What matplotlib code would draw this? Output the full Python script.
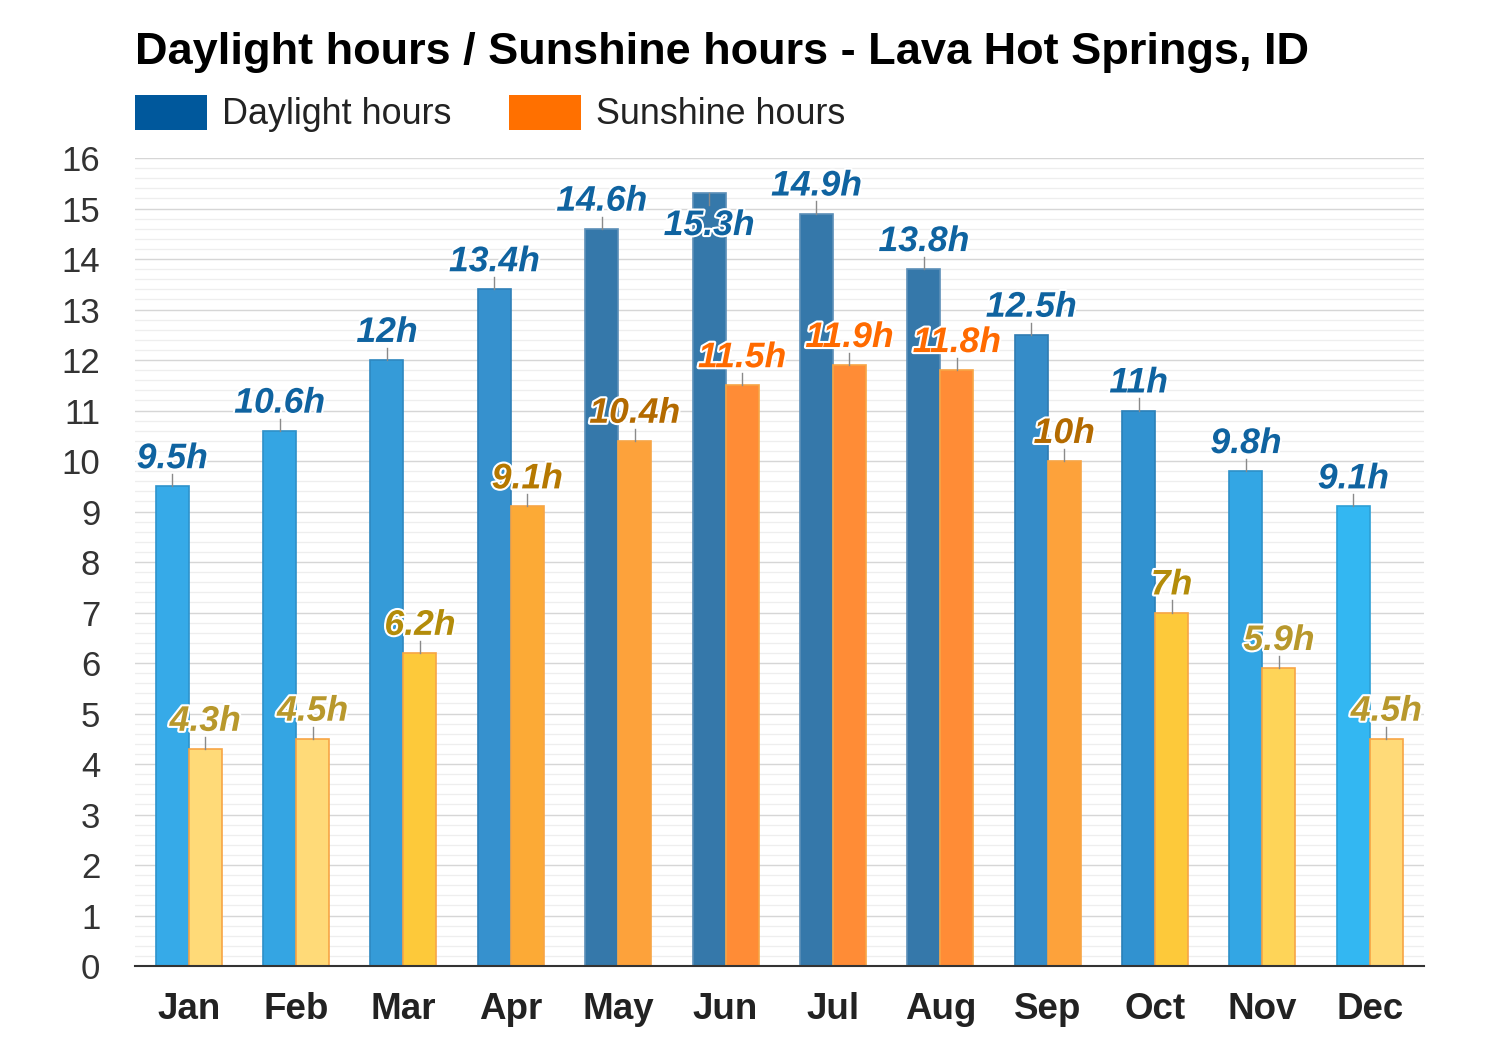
import matplotlib
matplotlib.use("Agg")
import matplotlib.pyplot as plt
import matplotlib.patheffects as pe
from matplotlib.patches import Rectangle
from matplotlib.ticker import MultipleLocator

plt.rcParams['font.family'] = ['Liberation Sans', 'DejaVu Sans']

months = ["Jan", "Feb", "Mar", "Apr", "May", "Jun", "Jul", "Aug", "Sep", "Oct", "Nov", "Dec"]
daylight = [9.5, 10.6, 12, 13.4, 14.6, 15.3, 14.9, 13.8, 12.5, 11, 9.8, 9.1]
sunshine = [4.3, 4.5, 6.2, 9.1, 10.4, 11.5, 11.9, 11.8, 10, 7, 5.9, 4.5]
day_labels = ["9.5h", "10.6h", "12h", "13.4h", "14.6h", "15.3h", "14.9h", "13.8h", "12.5h", "11h", "9.8h", "9.1h"]
sun_labels = ["4.3h", "4.5h", "6.2h", "9.1h", "10.4h", "11.5h", "11.9h", "11.8h", "10h", "7h", "5.9h", "4.5h"]

day_colors = ["#36AAE8", "#34A5E3", "#359BD8", "#3691CE", "#3578AA", "#3578AA", "#3578AA", "#3578AA",
              "#358CC8", "#3192D0", "#33A6E4", "#33B7F2"]
day_edges = ["#2E93CC", "#2E90C8", "#2E88C0", "#2F80B8", "#5C8FB8", "#5C8FB8", "#5C8FB8", "#5C8FB8",
             "#2F7CB2", "#2A80B8", "#2D90C8", "#2EA0D6"]
sun_colors = ["#FFDA78", "#FFDA78", "#FDC93A", "#FCAA36", "#FDA23B", "#FF8C36", "#FF8C36", "#FF8C36",
              "#FDA23B", "#FDC93A", "#FED458", "#FFDA78"]
day_label_colors = ["#0F63A0"] * 12
sun_label_colors = ["#B8982C", "#B8982C", "#B38C0A", "#B57800", "#B36A00", "#FF6A00", "#FF6A00", "#FF6A00",
                    "#B36A00", "#B38C0A", "#B8982C", "#B8982C"]

fig = plt.figure(figsize=(15, 10.5), dpi=100)
fig.patch.set_facecolor("#FFFFFF")
ax = fig.add_axes([0.09, 0.08, 0.859, 0.7695])

w = 0.307
x = list(range(12))
xd = [i - w / 2 for i in x]
xs = [i + w / 2 for i in x]

ax.bar(xd, daylight, width=w, color=day_colors, edgecolor=day_edges, linewidth=1.2, zorder=3)
ax.bar(xs, sunshine, width=w, color=sun_colors, edgecolor="#F7A545", linewidth=1.2, zorder=3)

ax.set_xlim(-0.5, 11.5)
ax.set_ylim(0, 16)
ax.yaxis.set_major_locator(MultipleLocator(1))
ax.yaxis.set_minor_locator(MultipleLocator(0.2))
ax.grid(which="major", axis="y", color="#D6D6D6", linewidth=1.0, zorder=0)
ax.grid(which="minor", axis="y", color="#EEEEEE", linewidth=0.9, zorder=0)
for s in ["top", "right", "left"]:
    ax.spines[s].set_visible(False)
ax.spines["bottom"].set_color("#333333")
ax.spines["bottom"].set_linewidth(1.5)
ax.spines["bottom"].set_zorder(5)
ax.tick_params(axis="both", which="both", length=0)
ax.tick_params(axis="y", pad=25, labelsize=25, labelcolor="#333333")
ax.tick_params(axis="x", pad=19, labelsize=26.5)
ax.set_xticks(x)
ax.set_xticklabels(months, fontweight="bold", color="#222222")

outline = [pe.withStroke(linewidth=3, foreground="white")]
lead = 0.24
lfs = 25.6

for i in range(12):
    top = daylight[i]
    if top > 15.1:
        ax.plot([xd[i], xd[i]], [top, top - lead], color="#8A8A8A", lw=1, zorder=4)
        ax.annotate(day_labels[i], (xd[i], top), xytext=(0, -30), textcoords="offset points",
                    ha="center", va="baseline", fontsize=lfs, fontweight="bold", style="italic",
                    color=day_label_colors[i], path_effects=outline, zorder=6)
    else:
        ax.plot([xd[i], xd[i]], [top, top + lead], color="#8A8A8A", lw=1, zorder=4)
        ax.annotate(day_labels[i], (xd[i], top), xytext=(0, 13), textcoords="offset points",
                    ha="center", va="baseline", fontsize=lfs, fontweight="bold", style="italic",
                    color=day_label_colors[i], path_effects=outline, zorder=6)
    top = sunshine[i]
    ax.plot([xs[i], xs[i]], [top, top + lead], color="#8A8A8A", lw=1, zorder=4)
    ax.annotate(sun_labels[i], (xs[i], top), xytext=(0, 13), textcoords="offset points",
                ha="center", va="baseline", fontsize=lfs, fontweight="bold", style="italic",
                color=sun_label_colors[i], path_effects=outline, zorder=6)

# title
fig.text(0.09, 1 - 64 / 1050, "Daylight hours / Sunshine hours - Lava Hot Springs, ID", fontsize=32.5,
         fontweight="bold", color="#000000", ha="left", va="baseline")

# legend
fig.patches.append(Rectangle((135 / 1500, 1 - 130 / 1050), 72 / 1500, 35 / 1050,
                             transform=fig.transFigure, facecolor="#00589C", edgecolor="none"))
fig.text(222 / 1500, 1 - 124 / 1050, "Daylight hours", fontsize=25.8, color="#222222", ha="left", va="baseline")
fig.patches.append(Rectangle((509 / 1500, 1 - 130 / 1050), 72 / 1500, 35 / 1050,
                             transform=fig.transFigure, facecolor="#FF7000", edgecolor="none"))
fig.text(596 / 1500, 1 - 124 / 1050, "Sunshine hours", fontsize=25.8, color="#222222", ha="left", va="baseline")

fig.savefig("out.png", dpi=100, facecolor=fig.get_facecolor())
